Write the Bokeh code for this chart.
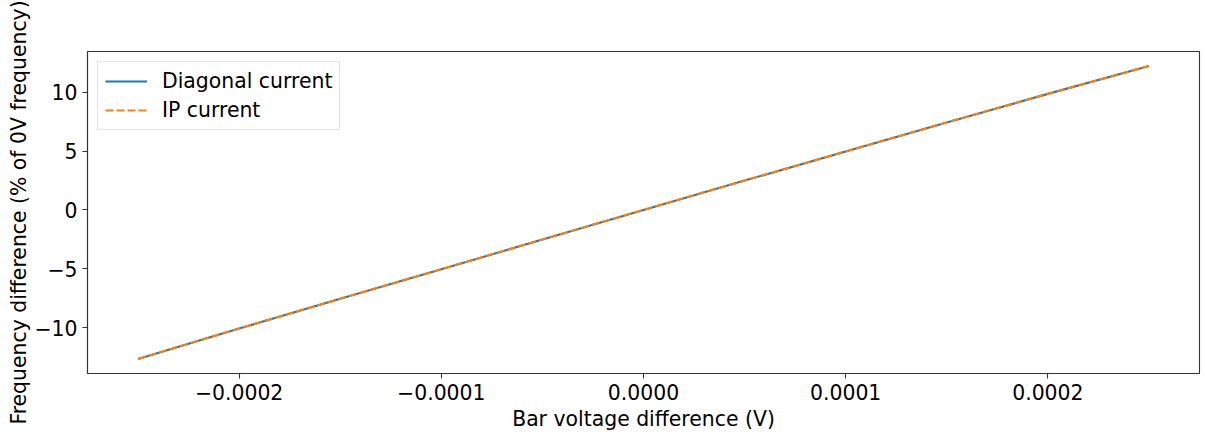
from bokeh.plotting import figure
from bokeh.models import Range1d, FixedTicker, CustomJSTickFormatter, Legend, LegendItem
from bokeh.embed import file_html
from bokeh.resources import INLINE

# Bar voltage difference (V) and resulting frequency shift (% of 0 V frequency)
voltage = [-0.00025, -0.0002, -0.00015, -0.0001, -0.00005, 0.0,
           0.00005, 0.0001, 0.00015, 0.0002, 0.00025]
diagonal_current = [-12.66, -10.08, -7.55, -5.04, -2.52, 0.0,
                    2.49, 4.97, 7.43, 9.86, 12.22]
ip_current = [-12.66, -10.08, -7.55, -5.04, -2.52, 0.0,
              2.49, 4.97, 7.43, 9.86, 12.22]

x_ticks = [-0.0002, -0.0001, 0.0, 0.0001, 0.0002]
y_ticks = [-10, -5, 0, 5, 10]

FONT = "DejaVu Sans"
FS = "20.4px"

p = figure(width=1205, height=434, output_backend="svg", toolbar_location=None,
           x_range=Range1d(-0.000275, 0.000275), y_range=Range1d(-13.9, 13.46),
           min_border_left=87, min_border_right=6, min_border_top=51, min_border_bottom=61)

p.background_fill_color = "white"
p.border_fill_color = "white"
p.outline_line_color = "#333333"
p.outline_line_width = 1.1
p.grid.visible = False

r1 = p.line(voltage, diagonal_current, line_color="#1f77b4", line_width=2.1)
r2 = p.line(voltage, ip_current, line_color="#ff7f0e", line_width=2.1, line_dash="8 3")

p.xaxis.ticker = FixedTicker(ticks=x_ticks)
p.yaxis.ticker = FixedTicker(ticks=y_ticks)
p.xaxis.formatter = CustomJSTickFormatter(
    code="return (tick < 0 ? '\u2212' : '') + Math.abs(tick).toFixed(4);")
p.yaxis.formatter = CustomJSTickFormatter(
    code="return (tick < 0 ? '\u2212' : '') + Math.abs(Math.round(tick)).toString();")

p.xaxis.axis_label = "Bar voltage difference (V)"
p.yaxis.axis_label = "Frequency difference (% of 0V frequency)"

for ax in (p.xaxis, p.yaxis):
    ax.axis_line_color = "#333333"
    ax.axis_line_width = 1.1
    ax.major_tick_line_color = "#333333"
    ax.major_tick_line_width = 1.1
    ax.major_tick_out = 5
    ax.major_tick_in = 0
    ax.minor_tick_line_color = None
    ax.major_label_text_font = FONT
    ax.major_label_text_font_size = FS
    ax.major_label_text_color = "black"
    ax.axis_label_text_font = FONT
    ax.axis_label_text_font_size = FS
    ax.axis_label_text_font_style = "normal"
    ax.axis_label_text_color = "black"
    ax.major_label_standoff = 5

p.xaxis.axis_label_standoff = 4
p.yaxis.axis_label_standoff = 0

legend = Legend(items=[LegendItem(label="Diagonal current", renderers=[r1]),
                       LegendItem(label="IP current", renderers=[r2])],
                location="top_left")
legend.label_text_font = FONT
legend.label_text_font_size = FS
legend.label_text_color = "black"
legend.glyph_width = 42
legend.glyph_height = 24
legend.label_standoff = 15
legend.label_height = 24
legend.padding = 7
legend.spacing = 5
legend.margin = 10
legend.border_line_color = "#cccccc"
legend.border_line_width = 1
legend.background_fill_alpha = 0.8
p.add_layout(legend)

open("out.html", "w").write(file_html(p, INLINE))
